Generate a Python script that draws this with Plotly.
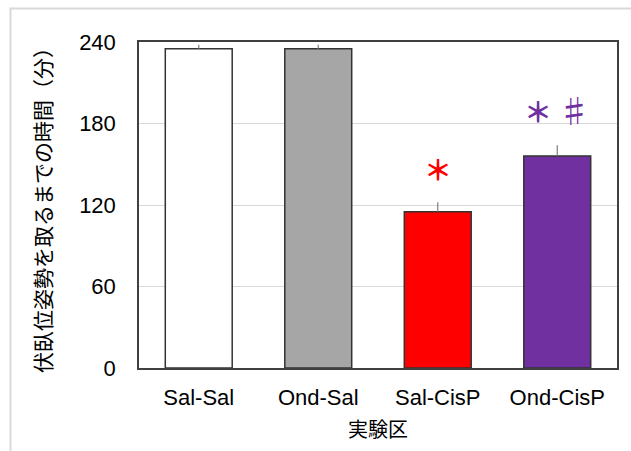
import plotly.graph_objects as go

# Experimental groups and their mean latency (min) with SEM
groups = ["Sal-Sal", "Ond-Sal", "Sal-CisP", "Ond-CisP"]
means = [235, 235, 115, 156]
sems = [3, 3, 7, 8]
bar_colors = ["#FFFFFF", "#A6A6A6", "#FF0000", "#7030A0"]

# Significance marks above each bar
marks = ["", "", "<b>＊</b>", "<b>＊</b> <span style='font-size:32px'>♯</span>"]
mark_colors = ["#000000", "#000000", "#FF0000", "#7030A0"]

y_ticks = [0, 60, 120, 180, 240]

W, H = 631, 451
ML, MR, MT, MB = 139, 14, 42, 83
pw, ph = W - ML - MR, H - MT - MB

font_main = "Liberation Sans, Arial, Noto Sans CJK JP, sans-serif"
font_jp = "Noto Sans CJK JP, sans-serif"

fig = go.Figure()
fig.add_trace(go.Bar(
    x=groups,
    y=means,
    marker=dict(color=bar_colors, line=dict(color="#333333", width=1.5)),
    error_y=dict(type="data", array=sems, arrayminus=[0] * len(sems),
                 symmetric=False, color="#7f7f7f", thickness=1.2, width=0),
    width=0.56,
))

for g, m, s, t, c in zip(groups, means, sems, marks, mark_colors):
    if t:
        fig.add_annotation(x=g, y=m + s, text=t, showarrow=False,
                           yanchor="bottom", yshift=11,
                           font=dict(family=font_jp, size=28, color=c))

# light outer frame of the chart area
def px_x(p):
    return (p - ML) / pw

def px_y(p):
    return (H - MB - p) / ph

fig.add_shape(type="rect", xref="paper", yref="paper",
              x0=px_x(10.5), x1=px_x(660), y0=px_y(480), y1=px_y(8.5),
              line=dict(color="#D9D9D9", width=2), fillcolor="rgba(0,0,0,0)",
              layer="below")

fig.update_layout(
    width=W, height=H,
    margin=dict(l=ML, r=MR, t=MT, b=MB),
    paper_bgcolor="white", plot_bgcolor="white",
    showlegend=False,
    font=dict(family=font_main, color="#000000"),
    xaxis=dict(
        showline=True, linecolor="#404040", linewidth=1.5, mirror=True,
        tickfont=dict(size=22, family=font_main),
        title=dict(text="実験区", font=dict(size=20, family=font_jp), standoff=14),
        ticks="", ticklabelstandoff=9,
    ),
    yaxis=dict(
        range=[0, 240], tickvals=y_ticks,
        showline=True, linecolor="#404040", linewidth=1.5, mirror=True,
        showgrid=True, gridcolor="#D9D9D9", gridwidth=1,
        tickfont=dict(size=22, family=font_main),
        ticks="", ticklabelstandoff=17,
        title=dict(text="伏臥位姿勢を取るまでの時間（分）",
                   font=dict(size=21, family=font_jp), standoff=22),
        zeroline=False,
    ),
    bargap=0.44,
)

fig.write_html("out.html")
